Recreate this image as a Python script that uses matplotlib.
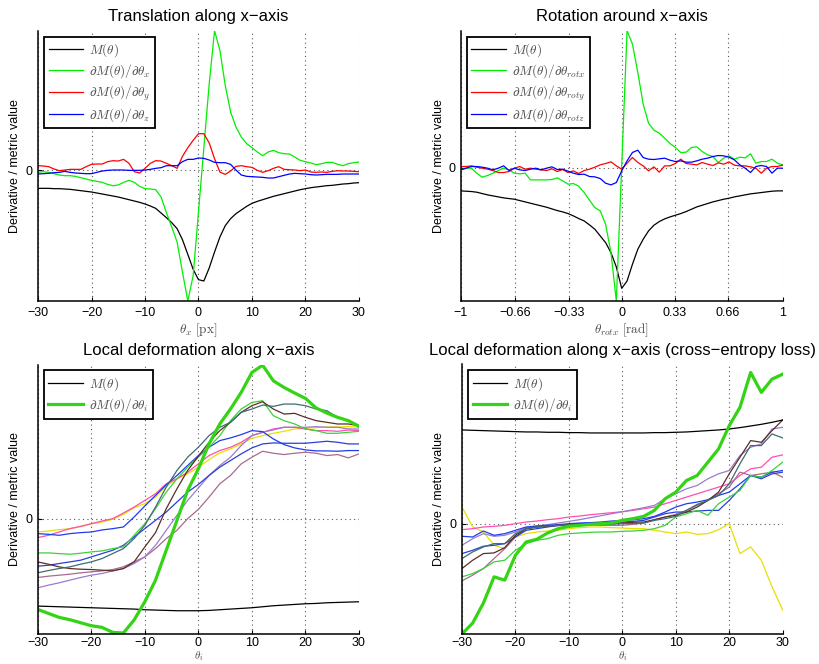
import numpy as np
import matplotlib
matplotlib.use("Agg")
import matplotlib.pyplot as plt

plt.rcParams['font.family'] = ['Liberation Sans', 'DejaVu Sans']
plt.rcParams['mathtext.fontset'] = 'cm'

# ---------------- data ----------------
# top-left: translation along x-axis
tl_x = np.arange(-30, 31, 1)
tl_M = [-0.54, -0.54, -0.54, -0.55, -0.55, -0.56, -0.57, -0.59, -0.61, -0.63,
        -0.65, -0.68, -0.71, -0.74, -0.77, -0.80, -0.84, -0.88, -0.92, -0.96,
        -1.01, -1.07, -1.14, -1.28, -1.42, -1.57, -1.75, -2.08, -2.52, -2.97,
        -3.28,
        -3.32, -2.93, -2.45, -2.00, -1.66, -1.45, -1.30, -1.19, -1.08, -0.99,
        -0.93, -0.88, -0.83, -0.78, -0.74, -0.70, -0.66, -0.62, -0.58, -0.55,
        -0.52, -0.50, -0.48, -0.46, -0.45, -0.43, -0.41, -0.40, -0.38, -0.37]
tl_dx = [-0.06, -0.04, -0.06, -0.10, -0.14, -0.16, -0.16, -0.18, -0.22, -0.26,
         -0.30, -0.33, -0.36, -0.42, -0.46, -0.44, -0.36, -0.30, -0.36, -0.48,
         -0.55, -0.56, -0.58, -0.80, -1.27, -1.70, -2.15, -3.05, -3.92, -3.16,
         -1.24,
         0.68, 2.60, 4.19, 3.60, 2.55, 1.75, 1.30, 1.00, 0.80, 0.68,
         0.55, 0.44, 0.55, 0.60, 0.53, 0.50, 0.49, 0.40, 0.30, 0.26,
         0.22, 0.17, 0.20, 0.24, 0.24, 0.18, 0.14, 0.20, 0.23, 0.25]
tl_dy = [0.14, 0.13, 0.11, 0.04, -0.01, 0.01, 0.03, 0.03, 0.03, 0.11,
         0.18, 0.19, 0.19, 0.26, 0.29, 0.28, 0.33, 0.21, -0.04, -0.08,
         0.06, 0.21, 0.29, 0.28, 0.21, 0.14, 0.06, 0.42, 0.68, 0.90,
         1.10,
         1.10, 0.82, 0.35, -0.05, -0.12, -0.02, 0.12, 0.14, 0.11, 0.09,
         0.00, -0.06, -0.01, 0.06, 0.11, 0.03, 0.02, 0.01, -0.01, 0.01,
         -0.05, -0.06, -0.05, -0.06, -0.03, -0.01, -0.02, -0.02, -0.03, -0.04]
tl_dz = [-0.11, -0.10, -0.09, -0.07, -0.06, -0.03, -0.06, -0.08, -0.09, -0.10,
         -0.10, -0.06, -0.02, 0.00, 0.01, 0.01, 0.01, 0.00, 0.00, 0.00,
         0.01, 0.03, 0.06, 0.08, 0.14, 0.14, 0.14, 0.26, 0.33, 0.33,
         0.37,
         0.36, 0.31, 0.24, 0.23, 0.23, 0.18, 0.01, -0.14, -0.18, -0.19,
         -0.20, -0.21, -0.23, -0.23, -0.19, -0.15, -0.11, -0.09, -0.10, -0.11,
         -0.13, -0.14, -0.13, -0.12, -0.12, -0.12, -0.11, -0.11, -0.11, -0.11]

# top-right: rotation around x-axis
tr_x = np.linspace(-1, 1, 61)
tr_M = [-0.70, -0.71, -0.72, -0.74, -0.78, -0.82, -0.85, -0.88, -0.91, -0.93,
        -0.95, -0.99, -1.03, -1.07, -1.11, -1.15, -1.19, -1.24, -1.29, -1.33,
        -1.38, -1.45, -1.53, -1.60, -1.72, -1.85, -2.05, -2.25, -2.55, -2.98,
        -3.62,
        -3.40, -2.90, -2.45, -2.15, -1.90, -1.73, -1.62, -1.54, -1.48, -1.43,
        -1.38, -1.32, -1.25, -1.18, -1.13, -1.08, -1.03, -0.99, -0.95, -0.92,
        -0.88, -0.85, -0.82, -0.79, -0.77, -0.75, -0.73, -0.71, -0.70, -0.70]
tr_drx = [-0.07, -0.02, -0.02, -0.17, -0.29, -0.24, -0.17, -0.09, -0.02, -0.07,
          -0.17, -0.19, -0.17, -0.37, -0.37, -0.37, -0.37, -0.36, -0.31, -0.40,
          -0.50, -0.48, -0.56, -0.75, -0.98, -1.20, -1.30, -1.70, -2.55, -4.00,
          0.05,
          4.10, 3.70, 2.85, 1.90, 1.33, 1.12, 1.03, 0.88, 0.72, 0.60,
          0.45, 0.46, 0.60, 0.62, 0.48, 0.38, 0.33, 0.15, 0.28, 0.35,
          0.25, 0.31, 0.29, 0.41, 0.13, 0.18, 0.18, 0.25, 0.13, 0.08]
tr_dry = [0.03, 0.03, 0.05, 0.01, -0.02, -0.05, -0.09, -0.15, -0.15, -0.12,
          -0.02, 0.03, -0.05, -0.02, -0.05, -0.07, -0.09, -0.04, -0.12, -0.06,
          -0.15, -0.10, -0.18, -0.09, -0.05, 0.01, 0.08, 0.12, 0.17, 0.05,
          -0.05,
          0.13, 0.30, 0.15, 0.05, -0.10, 0.02, -0.14, 0.05, 0.05, 0.12,
          0.25, 0.12, 0.10, 0.08, 0.15, 0.10, 0.06, 0.14, 0.10, 0.17,
          0.07, 0.05, 0.05, 0.02, -0.02, -0.17, -0.02, 0.03, 0.03, 0.07]
tr_drz = [-0.07, -0.02, 0.03, 0.03, 0.01, -0.02, -0.07, -0.02, 0.05, -0.09,
          -0.02, -0.07, -0.09, -0.05, -0.02, -0.07, -0.02, 0.02, -0.06, -0.05,
          -0.11, -0.17, -0.21, -0.20, -0.27, -0.28, -0.33, -0.47, -0.52, -0.45,
          -0.10,
          0.20, 0.45, 0.52, 0.30, 0.25, 0.24, 0.26, 0.28, 0.22, 0.18,
          0.20, 0.16, 0.16, 0.20, 0.25, 0.28, 0.33, 0.36, 0.35, 0.31,
          0.23, 0.08, -0.02, -0.15, 0.03, 0.06, 0.03, -0.17, -0.02, -0.02]

# bottom panels: local deformation (x = -30..30 step 2)
b_x = np.arange(-30, 31, 2)

bl_M = [-2.63, -2.64, -2.65, -2.66, -2.67, -2.68, -2.69, -2.70, -2.71, -2.72,
        -2.74, -2.75, -2.76, -2.77, -2.77, -2.77, -2.76, -2.74, -2.72, -2.70,
        -2.68, -2.65, -2.62, -2.60, -2.58, -2.56, -2.55, -2.53, -2.52, -2.51, -2.50]
bl_di = [-2.73, -2.85, -2.97, -3.04, -3.13, -3.22, -3.27, -3.42, -3.44, -3.05,
         -2.50, -1.85, -0.95, -0.05, 0.85, 1.50, 2.25, 2.85, 3.30, 3.80,
         4.40, 4.62, 4.15, 3.95, 3.78, 3.62, 3.33, 3.18, 3.05, 2.95, 2.78]
bl_teal = [-1.63, -1.56, -1.50, -1.45, -1.37, -1.30, -1.20, -1.05, -0.90, -0.60,
           -0.20, 0.35, 0.95, 1.45, 1.85, 2.15, 2.50, 2.75, 2.90, 3.20,
           3.30, 3.42, 3.38, 3.45, 3.45, 3.40, 3.30, 3.25, 3.05, 2.95, 2.80]
bl_brown = [-1.30, -1.37, -1.45, -1.50, -1.52, -1.53, -1.55, -1.57, -1.50, -1.30,
            -0.85, -0.42, 0.30, 0.90, 1.45, 1.88, 2.30, 2.65, 2.90, 3.20,
            3.40, 3.52, 3.30, 3.15, 3.17, 3.05, 2.95, 2.90, 2.85, 2.85, 2.80]
bl_green = [-1.03, -1.03, -1.05, -1.07, -1.04, -1.00, -0.97, -0.90, -0.85, -0.50,
            -0.15, 0.30, 0.80, 1.20, 1.55, 1.85, 2.15, 2.50, 2.95, 3.30,
            3.50, 3.55, 3.10, 2.95, 2.85, 2.70, 2.65, 2.57, 2.57, 2.60, 2.63]
bl_blue1 = [-0.45, -0.47, -0.50, -0.45, -0.42, -0.40, -0.34, -0.30, -0.25, 0.05,
            0.38, 0.70, 1.02, 1.30, 1.60, 1.90, 2.15, 2.35, 2.43, 2.53,
            2.65, 2.62, 2.40, 2.23, 2.13, 2.07, 2.04, 2.04, 2.03, 2.05, 2.05]
bl_blue2 = [-1.43, -1.40, -1.35, -1.30, -1.25, -1.15, -1.05, -0.95, -0.80, -0.55,
            -0.30, -0.05, 0.20, 0.50, 0.80, 1.03, 1.30, 1.55, 1.75, 1.95,
            2.13, 2.25, 2.28, 2.27, 2.27, 2.27, 2.30, 2.33, 2.30, 2.25, 2.25]
bl_pink = [-0.57, -0.50, -0.40, -0.30, -0.23, -0.15, -0.07, 0.00, 0.17, 0.35,
           0.55, 0.75, 1.05, 1.20, 1.40, 1.65, 1.90, 2.05, 2.15, 2.30,
           2.50, 2.60, 2.70, 2.75, 2.75, 2.70, 2.65, 2.65, 2.63, 2.67, 2.65]
bl_yellow = [-0.40, -0.37, -0.33, -0.30, -0.24, -0.16, -0.10, -0.02, 0.13, 0.33,
             0.45, 0.65, 0.98, 1.20, 1.35, 1.55, 1.78, 1.98, 2.10, 2.25,
             2.42, 2.50, 2.57, 2.63, 2.70, 2.72, 2.74, 2.76, 2.76, 2.77, 2.76]
bl_purple = [-2.08, -2.00, -1.93, -1.85, -1.77, -1.70, -1.65, -1.57, -1.50, -1.35,
             -1.15, -0.80, -0.35, 0.10, 0.55, 0.92, 1.30, 1.60, 1.85, 2.20,
             2.50, 2.60, 2.67, 2.75, 2.75, 2.75, 2.77, 2.75, 2.75, 2.70, 2.70]
bl_mauve = [-1.77, -1.73, -1.70, -1.67, -1.63, -1.60, -1.57, -1.53, -1.45, -1.30,
            -1.15, -0.90, -0.60, -0.35, 0.00, 0.28, 0.65, 1.05, 1.30, 1.65,
            1.85, 2.03, 1.97, 1.93, 1.97, 2.00, 1.97, 1.90, 1.93, 1.83, 1.95]

br_M = [2.82, 2.81, 2.80, 2.79, 2.78, 2.77, 2.76, 2.76, 2.75, 2.75,
        2.74, 2.74, 2.73, 2.73, 2.73, 2.73, 2.73, 2.73, 2.74, 2.74,
        2.75, 2.76, 2.78, 2.80, 2.82, 2.85, 2.89, 2.94, 2.99, 3.05, 3.12]
br_di = [-3.32, -2.99, -2.39, -1.60, -1.70, -0.95, -0.55, -0.47, -0.28, -0.15,
         -0.08, -0.05, -0.02, 0.00, 0.02, 0.10, 0.15, 0.22, 0.40, 0.75,
         0.95, 1.30, 1.45, 1.85, 2.25, 2.95, 3.50, 4.55, 3.95, 4.35, 4.50]
br_yellow = [0.50, -0.10, -0.25, -0.65, -0.75, -0.40, -0.30, -0.25, -0.22, -0.20,
             -0.15, -0.12, -0.10, -0.10, -0.12, -0.13, -0.15, -0.15, -0.20, -0.25,
             -0.30, -0.25, -0.32, -0.30, -0.18, 0.00, -0.90, -0.70, -1.10, -1.90, -2.60]
br_pink = [-0.18, -0.15, -0.10, -0.08, -0.05, 0.00, 0.05, 0.08, 0.12, 0.15,
           0.20, 0.23, 0.27, 0.30, 0.33, 0.36, 0.40, 0.45, 0.50, 0.60,
           0.70, 0.80, 0.90, 1.00, 1.10, 1.20, 1.45, 1.65, 1.70, 2.00, 2.07]
br_blue1 = [-0.38, -0.40, -0.22, -0.35, -0.30, -0.20, -0.10, -0.07, -0.05, -0.03,
            0.00, 0.02, 0.03, 0.05, 0.08, 0.10, 0.12, 0.15, 0.22, 0.35,
            0.50, 0.60, 0.65, 0.72, 0.85, 0.95, 1.20, 1.45, 1.40, 1.55, 1.60]
br_blue2 = [-0.90, -0.80, -0.68, -0.65, -0.60, -0.40, -0.20, -0.15, -0.10, -0.05,
            -0.02, 0.00, 0.02, 0.03, 0.04, 0.05, 0.07, 0.10, 0.20, 0.30,
            0.35, 0.35, 0.38, 0.40, 0.40, 0.70, 1.05, 1.45, 1.35, 1.50, 1.55]
br_purple = [-0.65, -0.45, -0.30, -0.38, -0.35, -0.25, -0.12, -0.07, -0.03, 0.02,
             0.07, 0.12, 0.18, 0.24, 0.30, 0.36, 0.42, 0.48, 0.55, 0.75,
             0.90, 1.05, 1.15, 1.35, 1.50, 1.60, 2.05, 2.30, 2.40, 2.85, 2.90]
br_teal = [-1.05, -0.85, -0.70, -0.60, -0.60, -0.30, -0.15, -0.10, -0.07, -0.05,
           -0.03, -0.02, -0.02, -0.02, -0.01, 0.00, 0.01, 0.02, 0.10, 0.15,
           0.22, 0.40, 0.58, 0.70, 0.85, 1.20, 1.80, 2.35, 2.35, 2.70, 2.58]
br_brown = [-1.35, -1.10, -0.90, -0.88, -0.72, -0.35, -0.15, -0.10, -0.07, -0.05,
            -0.03, -0.02, -0.01, 0.00, 0.00, 0.02, 0.04, 0.05, 0.12, 0.20,
            0.25, 0.35, 0.50, 0.70, 0.95, 1.50, 2.00, 2.50, 2.45, 2.80, 3.12]
br_green = [-1.60, -1.50, -1.35, -1.15, -1.10, -0.80, -0.60, -0.50, -0.45, -0.35,
            -0.30, -0.28, -0.26, -0.25, -0.25, -0.23, -0.22, -0.20, -0.15, -0.05,
            0.20, 0.30, 0.40, 0.25, 0.60, 0.80, 1.00, 1.45, 1.40, 1.60, 1.85]
br_mauve = [-1.72, -1.55, -1.35, -1.05, -0.75, -0.40, -0.15, -0.10, -0.08, -0.06,
            -0.05, -0.04, -0.04, -0.05, -0.05, -0.05, -0.02, 0.02, 0.12, 0.20,
            0.28, 0.40, 0.55, 0.70, 0.90, 1.10, 1.55, 1.45, 1.50, 1.55, 1.40]

# tick labels
px_ticks = [-30, -20, -10, 0, 10, 20, 30]
px_labels = ['\u221230', '\u221220', '\u221210', '0', '10', '20', '30']
rad_ticks = [-1, -0.66, -0.33, 0, 0.33, 0.66, 1]
rad_labels = ['\u22121', '\u22120.66', '\u22120.33', '0', '0.33', '0.66', '1']

titles = ['Translation along x\u2212axis', 'Rotation around x\u2212axis',
          'Local deformation along x\u2212axis',
          'Local deformation along x\u2212axis (cross\u2212entropy loss)']
xlabels = [r'$\theta_x\ [\mathrm{px}]$', r'$\theta_{rotx}\ [\mathrm{rad}]$',
           r'$\theta_i$', r'$\theta_i$']
ylabel_text = 'Derivative / metric value'

# ---------------- styling ----------------
C_THIN = {'teal': '#3f6b73', 'brown': '#5c2e24', 'green': '#3ad23a',
          'blue1': '#1f3cf0', 'blue2': '#2a3fd8', 'pink': '#ff4fb0',
          'yellow': '#e8e000', 'purple': '#9a7ccc', 'mauve': '#a86a8e'}
THICK_GREEN = '#33d414'

fig = plt.figure(figsize=(8.2, 6.64), dpi=100)
W, H = 820.0, 664.0


def make_ax(l, r, t, b):
    return fig.add_axes([l / W, 1 - b / H, (r - l) / W, (b - t) / H])


def style(ax, xticks, xtl, xlim, ylim, title, xlabel, ylab_x,
          xl_pad=2, xl_size=9.5, tick_pad=4):
    ax.set_xlim(xlim)
    ax.set_ylim(ylim)
    for s in ['top', 'right']:
        ax.spines[s].set_visible(False)
    for s in ['left', 'bottom']:
        ax.spines[s].set_linewidth(1.1)
    ax.set_xticks(xticks)
    ax.set_xticklabels(xtl, fontsize=9)
    ax.set_yticks([0])
    ax.set_yticklabels(['0'], fontsize=9)
    ax.tick_params(direction='in', length=3, width=0.8, pad=4)
    ax.tick_params(axis='x', pad=tick_pad)
    ax.grid(True, color='0.35', linestyle=(0, (1, 3)), linewidth=0.8)
    ax.set_axisbelow(True)
    ax.set_title(title, fontsize=12, pad=7)
    ax.set_xlabel(xlabel, fontsize=xl_size, labelpad=xl_pad, color='0.3')
    ax.set_ylabel(ylabel_text, fontsize=9)
    ax.yaxis.set_label_coords(ylab_x, 0.5)


def legend(ax, handles, labels):
    lg = ax.legend(handles, labels, loc='upper left', fontsize=9.5,
                   fancybox=False, framealpha=1, edgecolor='black',
                   handlelength=2.6, handletextpad=0.5, labelspacing=0.25,
                   borderpad=0.35, borderaxespad=0.45)
    lg.get_frame().set_linewidth(1.3)
    for t in lg.get_texts():
        t.set_color('0.3')


# top-left
ax1 = make_ax(38, 359, 30.7, 301)
h_m, = ax1.plot(tl_x, tl_M, color='k', lw=0.9)
h_x, = ax1.plot(tl_x, tl_dx, color='#00ee00', lw=0.9)
h_y, = ax1.plot(tl_x, tl_dy, color='#ff0000', lw=0.9)
h_z, = ax1.plot(tl_x, tl_dz, color='#0000ff', lw=0.9)
style(ax1, px_ticks, px_labels, (-30, 30), (-3.92, 4.19), titles[0], xlabels[0], -0.053)
legend(ax1, [h_m, h_x, h_y, h_z],
       [r'$M(\theta)$', r'$\partial M(\theta)/\partial\theta_x$',
        r'$\partial M(\theta)/\partial\theta_y$', r'$\partial M(\theta)/\partial\theta_z$'])

# top-right
ax2 = make_ax(460.7, 782.7, 30.7, 301)
h_m, = ax2.plot(tr_x, tr_M, color='k', lw=0.9)
h_x, = ax2.plot(tr_x, tr_drx, color='#00ee00', lw=0.9)
h_y, = ax2.plot(tr_x, tr_dry, color='#ff0000', lw=0.9)
h_z, = ax2.plot(tr_x, tr_drz, color='#0000ff', lw=0.9)
style(ax2, rad_ticks, rad_labels, (-1, 1), (-4.0, 4.1), titles[1], xlabels[1], -0.049)
legend(ax2, [h_m, h_x, h_y, h_z],
       [r'$M(\theta)$', r'$\partial M(\theta)/\partial\theta_{rotx}$',
        r'$\partial M(\theta)/\partial\theta_{roty}$', r'$\partial M(\theta)/\partial\theta_{rotz}$'])

# bottom-left
ax3 = make_ax(37.7, 359, 364.5, 634)
bl_thin = [(bl_yellow, 'yellow'), (bl_pink, 'pink'), (bl_mauve, 'mauve'),
           (bl_purple, 'purple'), (bl_blue2, 'blue2'), (bl_blue1, 'blue1'),
           (bl_green, 'green'), (bl_brown, 'brown'), (bl_teal, 'teal')]
for ys, c in bl_thin:
    ax3.plot(b_x, ys, color=C_THIN[c], lw=0.9)
h_m, = ax3.plot(b_x, bl_M, color='k', lw=0.9)
h_i, = ax3.plot(b_x, bl_di, color=THICK_GREEN, lw=2.3)
style(ax3, px_ticks, px_labels, (-30, 30), (-3.47, 4.64), titles[2], xlabels[2], -0.053,
      xl_pad=0.0, xl_size=8, tick_pad=2.5)
legend(ax3, [h_m, h_i], [r'$M(\theta)$', r'$\partial M(\theta)/\partial\theta_i$'])

# bottom-right
ax4 = make_ax(462, 782.7, 364.5, 634)
br_thin = [(br_yellow, 'yellow'), (br_pink, 'pink'), (br_mauve, 'mauve'),
           (br_purple, 'purple'), (br_blue2, 'blue2'), (br_blue1, 'blue1'),
           (br_green, 'green'), (br_brown, 'brown'), (br_teal, 'teal')]
for ys, c in br_thin:
    ax4.plot(b_x, ys, color=C_THIN[c], lw=0.9)
h_m, = ax4.plot(b_x, br_M, color='k', lw=0.9)
h_i, = ax4.plot(b_x, br_di, color=THICK_GREEN, lw=2.3)
style(ax4, px_ticks, px_labels, (-30, 30), (-3.32, 4.79), titles[3], xlabels[3], -0.053,
      xl_pad=0.0, xl_size=8, tick_pad=2.5)
legend(ax4, [h_m, h_i], [r'$M(\theta)$', r'$\partial M(\theta)/\partial\theta_i$'])

fig.savefig('out.png', dpi=100)
